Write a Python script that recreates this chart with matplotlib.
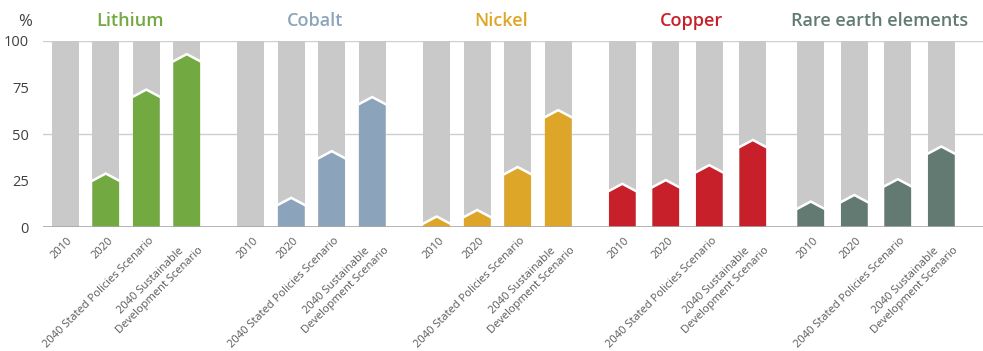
import numpy as np
import matplotlib
matplotlib.use("Agg")
import matplotlib.pyplot as plt
from matplotlib.patches import Polygon
import matplotlib.transforms as mtransforms
from matplotlib import font_manager

plt.rcParams["font.family"] = ["Open Sans", "DejaVu Sans"]

# === Данные
minerals = ["Lithium", "Cobalt", "Nickel", "Copper", "Rare earth elements"]
periods = ["2010", "2020", "2040 Stated Policies Scenario",
           "2040 Sustainable\nDevelopment Scenario"]
lithium = [None, 25, 70, 89]
cobalt = [None, 12, 37, 66]
nickel = [2, 5.5, 28.5, 59]
copper = [19.5, 21.5, 29.5, 43]
rare_earths = [10, 13.5, 22, 39.5]
shares = [lithium, cobalt, nickel, copper, rare_earths]

colors = ["#72a940", "#8ca4bb", "#dea629", "#c8202a", "#627a72"]
GREY = "#c9c9c9"

# === Раскладка (в пикселях по x)
group_start = [65.3, 250.7, 436.7, 622.3, 810.8]
group_step = [40.5, 40.5, 40.5, 43.5, 43.5]
BAR_W = 26.7
PEAK = 3.8  # высота "крыши" над значением

names = {f.name for f in font_manager.fontManager.ttflist}
label_font = ["Liberation Sans Narrow", "Open Sans"] if "Liberation Sans Narrow" in names else ["Open Sans"]

fig = plt.figure(figsize=(9.83, 3.51), dpi=100)
ax = fig.add_axes([42.7 / 983, 1 - 227.3 / 351, 1 - 42.7 / 983, (227.3 - 40.7) / 351])
ax.set_xlim(42.7, 983)
ax.set_ylim(0, 100)

for y in [50, 100]:
    ax.axhline(y, color="#cfcfcf", lw=1.0, zorder=0)
ax.axhline(0, color="#a8a8a8", lw=1.2, zorder=4)

xticks, xlabels = [], []
for g, name in enumerate(minerals):
    xs = [group_start[g] + i * group_step[g] for i in range(len(periods))]
    ax.bar(xs, 100, width=BAR_W, color=GREY, zorder=1)
    for x, v in zip(xs, shares[g]):
        if v is None:
            continue
        l, r = x - BAR_W / 2, x + BAR_W / 2
        pts = [(l, 0), (l, v), (x, v + PEAK), (r, v), (r, 0)]
        ax.add_patch(Polygon(pts, closed=True, facecolor=colors[g], edgecolor="none", zorder=2))
        ax.plot([l, x, r], [v, v + PEAK, v], color="white", lw=1.8,
                solid_joinstyle="miter", zorder=3)
    xticks += xs
    xlabels += periods
    fig.text((np.mean(xs)) / 983 + 0.004, 1 - 21 / 351, name, color=colors[g],
             fontsize=13, fontweight="semibold", ha="center", va="center")

ax.set_yticks([0, 25, 50, 75, 100])
ax.tick_params(axis="y", length=0, pad=10, labelsize=10.5, labelcolor="#404040")
ax.set_xticks(xticks)
ax.set_xticklabels(xlabels, rotation=45, ha="right", rotation_mode="anchor",
                   multialignment="center", fontsize=8.0, color="#595959",
                   family=label_font)
ax.tick_params(axis="x", length=0, pad=6)
offset = mtransforms.ScaledTranslation(2 / 100, 0, fig.dpi_scale_trans)
for lab in ax.get_xticklabels():
    lab.set_transform(lab.get_transform() + offset)

for s in ax.spines.values():
    s.set_visible(False)

fig.text(32 / 983, 1 - 22 / 351, "%", fontsize=12, color="#404040", ha="right", va="center")

fig.savefig("out.png", dpi=100)
